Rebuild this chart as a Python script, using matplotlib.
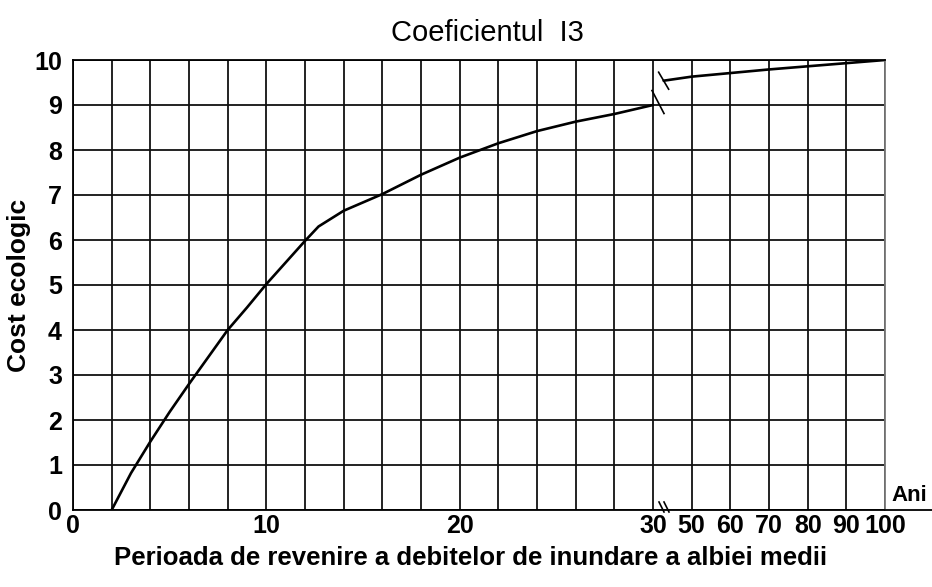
import numpy as np
import matplotlib
matplotlib.use("Agg")
import matplotlib.pyplot as plt
import matplotlib.transforms as mtransforms

plt.rcParams['font.family'] = ['Liberation Sans', 'DejaVu Sans']

# curve: return period (years) -> ecological cost
x_low = [2, 3, 4, 5, 6, 7, 8, 9, 10, 11, 12, 12.7, 14, 16, 18, 20, 22, 24, 26, 28, 30]
y_low = [0, 0.82, 1.52, 2.18, 2.8, 3.4, 4.0, 4.5, 5.02, 5.5, 5.98, 6.3, 6.65, 7.02,
         7.45, 7.83, 8.15, 8.42, 8.63, 8.8, 9.0]
x_high = [35.5, 50, 60, 70, 80, 90, 100]
y_high = [9.54, 9.63, 9.71, 9.79, 9.86, 9.93, 10.0]

x_grid = [0, 2, 4, 6, 8, 10, 12, 14, 16, 18, 20, 22, 24, 26, 28, 30, 50, 60, 70, 80, 90, 100]
x_labelled = [0, 10, 20, 30, 50, 60, 70, 80, 90, 100]
y_ticks = list(range(0, 11))


# broken axis: 2 years per cell up to 30, then 30->50 one cell, then 10 per cell
def fwd(x):
    x = np.asarray(x, dtype=float)
    return np.where(x <= 30, x / 2, np.where(x <= 50, 15 + (x - 30) / 20, 16 + (x - 50) / 10))


def inv(u):
    u = np.asarray(u, dtype=float)
    return np.where(u <= 15, u * 2, np.where(u <= 16, 30 + (u - 15) * 20, 50 + (u - 16) * 10))


fig = plt.figure(figsize=(9.32, 5.87), dpi=100)
ax = fig.add_axes([73 / 932, 1 - 510 / 587, 812 / 932, 450 / 587])
ax.set_xscale('function', functions=(fwd, inv))
ax.set_xlim(0, 100)
ax.set_ylim(0, 10)

ax.set_xticks(x_grid)
ax.set_xticklabels([str(v) if v in x_labelled else '' for v in x_grid])
ax.set_yticks(y_ticks)
ax.tick_params(length=0, labelsize=18)
ax.tick_params(axis='x', pad=3)
ax.tick_params(axis='y', pad=8)
for lab in ax.get_xticklabels() + ax.get_yticklabels():
    lab.set_fontweight('bold')
ax.grid(True, color='#111111', linewidth=1.3)
ax.set_axisbelow(True)

for s in ax.spines.values():
    s.set_linewidth(1.3)
ax.spines['right'].set_color('#777777')

ax.plot(x_low, y_low, color='black', linewidth=1.9, solid_capstyle='round')
ax.plot(x_high, y_high, color='black', linewidth=1.9, solid_capstyle='round')


def slash(x, y, dx, dy, ox=0.0, oy=0.0):
    tr = fig.dpi_scale_trans + mtransforms.ScaledTranslation(x, y, ax.transData)
    ax.plot([ox - dx, ox + dx], [oy + dy, oy - dy], color='black', linewidth=1.2,
            transform=tr, clip_on=False)


slash(30, 9.0, 0.06, 0.115, 0.05, 0.03)
slash(x_high[0], y_high[0], 0.05, 0.085)
slash(30, 0, 0.025, 0.05, 0.085, 0.03)
slash(30, 0, 0.025, 0.05, 0.135, 0.03)

# bottom axis line runs on past 100
ax.plot([1, 932 / 812 - 73 / 812], [0, 0], color='black', linewidth=1.3,
        transform=ax.transAxes, clip_on=False)
ax.text(1.008, 0.008, 'Ani', transform=ax.transAxes, ha='left', va='bottom',
        fontsize=16, fontweight='bold')

ax.set_title('Coeficientul  I3', fontsize=21, x=0.511, pad=14)
ax.set_ylabel('Cost ecologic', fontsize=19, fontweight='bold')
ax.yaxis.set_label_coords(-0.052, 0.5)
ax.set_xlabel('Perioada de revenire a debitelor de inundare a albiei medii',
              fontsize=18.5, fontweight='bold')
ax.xaxis.set_label_coords(0.489, -0.08)

fig.savefig('out.png', dpi=100)
